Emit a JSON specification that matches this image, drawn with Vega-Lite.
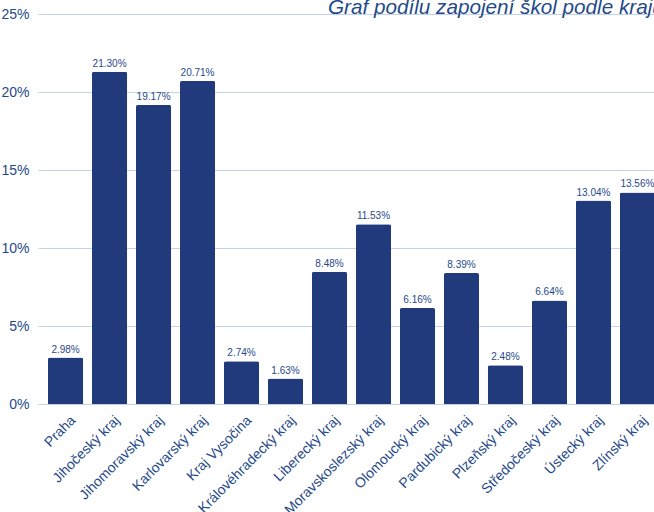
{
  "$schema": "https://vega.github.io/schema/vega-lite/v6.json",
  "autosize": {"type": "none"},
  "padding": {"left": 38, "top": 14, "right": 0, "bottom": 108},
  "width": 627,
  "height": 390,
  "background": "#ffffff",
  "title": {
    "text": "Graf podílu zapojení škol podle krajů",
    "orient": "top",
    "anchor": "start",
    "frame": "group",
    "dx": 290,
    "offset": -28,
    "baseline": "alphabetic",
    "font": "Liberation Sans",
    "fontSize": 20.7,
    "fontStyle": "italic",
    "fontWeight": "normal",
    "color": "#1f4a8a"
  },
  "data": {
    "values": [
      {"kraj": "Praha", "podil": 0.0298},
      {"kraj": "Jihočeský kraj", "podil": 0.2130},
      {"kraj": "Jihomoravský kraj", "podil": 0.1917},
      {"kraj": "Karlovarský kraj", "podil": 0.2071},
      {"kraj": "Kraj Vysočina", "podil": 0.0274},
      {"kraj": "Královéhradecký kraj", "podil": 0.0163},
      {"kraj": "Liberecký kraj", "podil": 0.0848},
      {"kraj": "Moravskoslezský kraj", "podil": 0.1153},
      {"kraj": "Olomoucký kraj", "podil": 0.0616},
      {"kraj": "Pardubický kraj", "podil": 0.0839},
      {"kraj": "Plzeňský kraj", "podil": 0.0248},
      {"kraj": "Středočeský kraj", "podil": 0.0664},
      {"kraj": "Ústecký kraj", "podil": 0.1304},
      {"kraj": "Zlínský kraj", "podil": 0.1356}
    ]
  },
  "config": {
    "view": {"stroke": null},
    "font": "Liberation Sans"
  },
  "encoding": {
    "x": {
      "field": "kraj",
      "type": "nominal",
      "sort": null,
      "scale": {"paddingInner": 0.2, "paddingOuter": 0.227},
      "axis": {
        "title": null,
        "labelAngle": -45,
        "labelFontSize": 14,
        "labelColor": "#1f4a8a",
        "labelFont": "Liberation Sans",
        "domain": false,
        "ticks": false,
        "labelPadding": 9,
        "labelOffset": 3,
        "grid": false
      }
    },
    "y": {
      "field": "podil",
      "type": "quantitative",
      "scale": {"domain": [0, 0.25], "nice": false},
      "axis": {
        "title": null,
        "values": [0, 0.05, 0.1, 0.15, 0.2, 0.25],
        "format": ".0%",
        "labelFontSize": 14,
        "labelColor": "#1f4a8a",
        "labelFont": "Liberation Sans",
        "labelPadding": 9,
        "domain": false,
        "ticks": false,
        "grid": true,
        "gridColor": "#c3d2e6",
        "gridWidth": 1
      }
    }
  },
  "layer": [
    {
      "mark": {"type": "bar", "color": "#213a7c", "cornerRadiusTopLeft": 2, "cornerRadiusTopRight": 2}
    },
    {
      "mark": {"type": "text", "baseline": "bottom", "dy": -3, "fontSize": 10, "color": "#1f4a8a", "font": "Liberation Sans"},
      "encoding": {
        "text": {"field": "podil", "type": "quantitative", "format": ".2%"}
      }
    }
  ]
}
